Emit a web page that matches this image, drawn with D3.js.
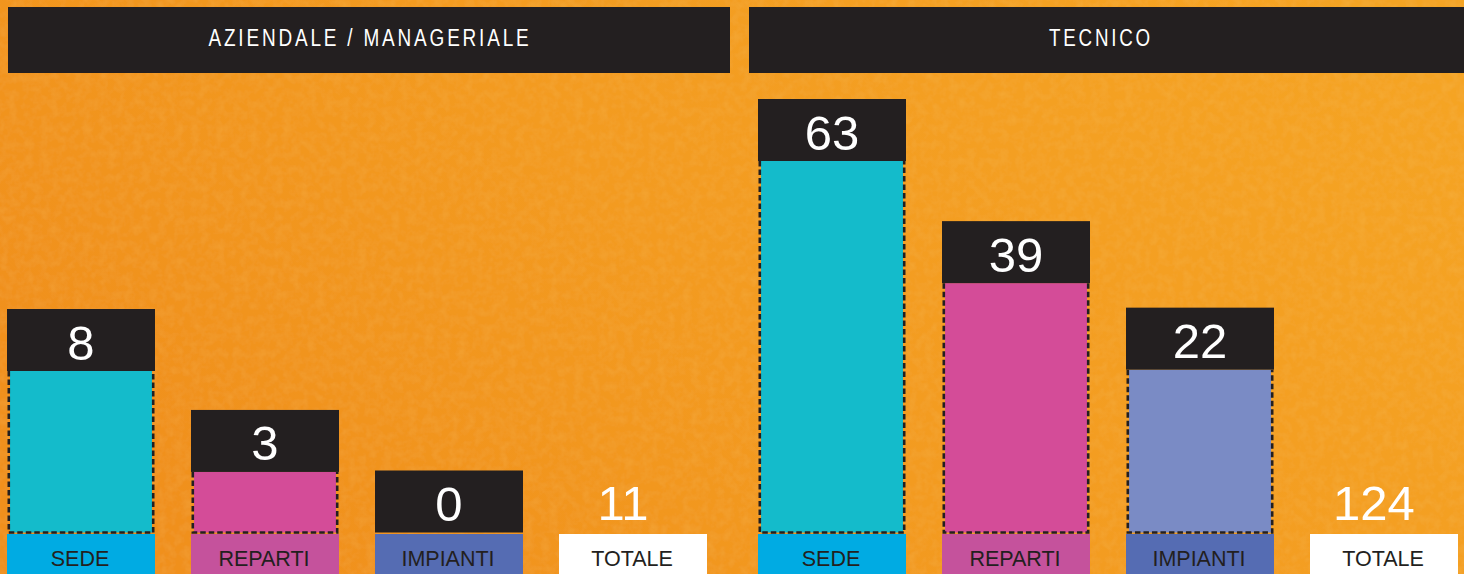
<!DOCTYPE html>
<html>
<head>
<meta charset="utf-8">
<script src="https://cdn.jsdelivr.net/npm/d3@7/dist/d3.min.js"></script>
<style>
  html, body { margin: 0; padding: 0; background: #F39A1F; overflow: hidden; }
  svg { display: block; }
</style>
</head>
<body>
<svg id="chart" width="1464" height="574"></svg>
<script>
// ---- data ----
const panels = ["AZIENDALE / MANAGERIALE", "TECNICO"];
const categories = ["SEDE", "REPARTI", "IMPIANTI"];
const aziendaleValues = [8, 3, 0];
const tecnicoValues = [63, 39, 22];
const totals = [11, 124];
const totalLabel = "TOTALE";

// ---- styles ----
const W = 1464, H = 574;
const dark = "#231F20";
const barColors = { "SEDE": "#14BBCB", "REPARTI": "#D44C98", "IMPIANTI": "#7A8BC5" };
const labelColors = { "SEDE": "#00ABE3", "REPARTI": "#C5529C", "IMPIANTI": "#556CB3", "TOTALE": "#FFFFFF" };
const baseY = 532.5;
const boxH = 62;

const svg = d3.select("#chart");
const defs = svg.append("defs");

// background gradient
const grad = defs.append("linearGradient").attr("id", "bg")
  .attr("x1", "0").attr("y1", "0.6").attr("x2", "1").attr("y2", "0.2");
grad.append("stop").attr("offset", "0").attr("stop-color", "#F0901D");
grad.append("stop").attr("offset", "0.45").attr("stop-color", "#F39B20");
grad.append("stop").attr("offset", "1").attr("stop-color", "#F5A424");

const filt = defs.append("filter").attr("id", "tex").attr("x", 0).attr("y", 0).attr("width", 1).attr("height", 1);
filt.append("feTurbulence").attr("type", "fractalNoise").attr("baseFrequency", "0.12").attr("numOctaves", 3).attr("seed", 4).attr("result", "noise");
filt.append("feColorMatrix").attr("in", "noise").attr("type", "matrix")
  .attr("values", "0 0 0 0 1  0 0 0 0 0.72  0 0 0 0 0.25  0 0 0 1 -0.4").attr("result", "tint");
filt.append("feComposite").attr("in", "tint").attr("in2", "SourceGraphic").attr("operator", "atop");

svg.append("rect").attr("width", W).attr("height", H).attr("fill", "url(#bg)");
svg.append("rect").attr("width", W).attr("height", H).attr("fill", "url(#bg)").attr("filter", "url(#tex)").attr("opacity", 0.22);

// panels layout
const panelDefs = [
  { title: panels[0], values: aziendaleValues, total: totals[0], hx0: 8, hx1: 730, tx: 370, tw: 323, x0: 7, floor: 0, span: 161.5 },
  { title: panels[1], values: tecnicoValues, total: totals[1], hx0: 749, hx1: 1464, tx: 1101, tw: 104, x0: 758, floor: -10, span: 371.5 }
];

panelDefs.forEach((p, pi) => {
  const g = svg.append("g");
  // header
  g.append("rect").attr("x", p.hx0).attr("y", 7).attr("width", p.hx1 - p.hx0).attr("height", 66).attr("fill", dark);
  g.append("text").attr("x", p.tx).attr("y", 46)
    .attr("text-anchor", "middle")
    .attr("fill", "#FFFFFF")
    .attr("font-family", "'Liberation Sans', Arial, sans-serif")
    .attr("font-size", 23.5)
    .attr("letter-spacing", "3.5px")
    .attr("textLength", p.tw)
    .attr("lengthAdjust", "spacingAndGlyphs")
    .text(p.title);

  const cats = categories.concat([totalLabel]);
  const x = d3.scaleBand().domain(cats).range([p.x0, p.x0 + 700]).paddingInner(36 / 184).paddingOuter(0).align(0);
  const maxV = d3.max(p.values);
  const y = d3.scaleLinear().domain([p.floor, maxV]).range([baseY, baseY - p.span]);
  const bw = x.bandwidth();

  const data = categories.map((c, i) => ({ c, v: p.values[i] }));

  // bottom label boxes
  g.selectAll(".lab").data(cats).join("rect")
    .attr("x", d => x(d))
    .attr("y", 534).attr("width", bw).attr("height", 40)
    .attr("fill", d => labelColors[d]);
  g.selectAll(".labt").data(cats).join("text")
    .attr("x", d => x(d) + bw / 2 - 1)
    .attr("y", 566)
    .attr("text-anchor", "middle")
    .attr("fill", dark)
    .attr("font-family", "'Liberation Sans', Arial, sans-serif")
    .attr("font-size", 21.5)
    .text(d => d);

  // bar fills
  g.selectAll(".bar").data(data).join("rect")
    .attr("x", d => x(d.c) + 3)
    .attr("y", d => y(d.v))
    .attr("width", bw - 6)
    .attr("height", d => Math.max(0, baseY - y(d.v)))
    .attr("fill", d => barColors[d.c]);
  // dashed outlines
  g.selectAll(".dash").data(data.filter(d => d.v > 0)).join("path")
    .attr("d", d => {
      const x1 = x(d.c) + 1.8, x2 = x(d.c) + bw - 1.8, yt = y(d.v), yb = baseY;
      return `M${x1},${yt}V${yb}H${x2}V${yt}`;
    })
    .attr("fill", "none")
    .attr("stroke", dark)
    .attr("stroke-width", 2.6)
    .attr("stroke-dasharray", "5.5,3");

  // value boxes
  g.selectAll(".vbox").data(data).join("rect")
    .attr("x", d => x(d.c))
    .attr("y", d => y(d.v) - boxH)
    .attr("width", bw)
    .attr("height", boxH)
    .attr("fill", dark);
  g.selectAll(".vtxt").data(data).join("text")
    .attr("x", d => x(d.c) + bw / 2)
    .attr("y", d => y(d.v) - boxH + 50.5)
    .attr("text-anchor", "middle")
    .attr("fill", "#FFFFFF")
    .attr("font-family", "'Liberation Sans', Arial, sans-serif")
    .attr("font-size", 49)
    .text(d => d.v);

  // total
  g.append("text")
    .attr("x", x(totalLabel) + bw / 2 - 10)
    .attr("y", 520)
    .attr("text-anchor", "middle")
    .attr("fill", "#FFFFFF")
    .attr("font-family", "'Liberation Sans', Arial, sans-serif")
    .attr("font-size", 49)
    .text(p.total);
});
</script>
</body>
</html>
